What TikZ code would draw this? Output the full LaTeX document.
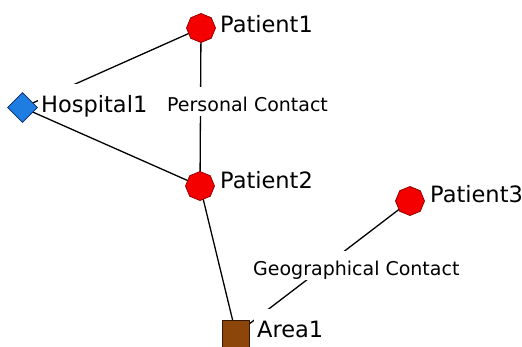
\documentclass[tikz,border=0pt]{standalone}
\usepackage{fontspec}
\setmainfont{DejaVu Sans}
\usetikzlibrary{shapes.geometric,backgrounds}
\definecolor{pfill}{RGB}{245,0,0}
\definecolor{pline}{RGB}{150,0,0}
\definecolor{hfill}{RGB}{30,125,225}
\definecolor{hline}{RGB}{10,40,100}
\definecolor{afill}{RGB}{140,70,10}
\definecolor{aline}{RGB}{50,25,0}
\tikzset{
  pat/.style={regular polygon, regular polygon sides=8, shape border rotate=22.5,
    minimum size=29pt, inner sep=0pt, fill=pfill, draw=pline, line width=0.8pt},
  hosp/.style={diamond, minimum width=30pt, minimum height=30pt, inner sep=0pt,
    fill=hfill, draw=hline, line width=0.8pt},
  areabox/.style={rectangle, minimum size=27pt, inner sep=0pt,
    fill=afill, draw=aline, line width=0.8pt},
  nlabel/.style={anchor=base west, fill=white, inner xsep=3pt, inner ysep=0pt,
    text height=28pt, text depth=1pt, font=\fontsize{22.5}{27}\selectfont},
  elabel/.style={anchor=base west, fill=white, inner xsep=2pt, inner ysep=0pt,
    text height=24pt, text depth=5pt, font=\fontsize{19}{23}\selectfont},
  link/.style={draw=black, line width=1.3pt}
}
\begin{document}
\begin{tikzpicture}[x=1pt,y=-1pt]
\useasboundingbox (0,0) rectangle (522,346);
% nodes
\node[pat] (p1) at (201,28) {};
\node[hosp] (h1) at (22.5,107.5) {};
\node[pat] (p2) at (200,186) {};
\node[pat] (p3) at (410,201) {};
\node[areabox] (a1) at (236,334) {};
% node labels
\node[nlabel] (p1l) at (217,32) {Patient1};
\node[nlabel] (h1l) at (38,112) {Hospital1};
\node[nlabel] (p2l) at (217,188) {Patient2};
\node[nlabel] (p3l) at (427,202) {Patient3};
\node[nlabel] (a1l) at (254,337) {Area1};
% edge labels
\node[elabel] (pc) at (165,111) {Personal Contact};
\node[elabel] (gc) at (251,275) {Geographical Contact};
\begin{pgfonlayer}{background}
  \fill[white] (0,0) rectangle (522,346);
  \draw[link] (h1.center) -- (p1.center);
  \draw[link] (h1.center) -- (p2.center);
  \draw[link] (p1.center) -- (p2.center);
  \draw[link] (p2.center) -- (a1.center);
  \draw[link] (p3.center) -- (a1.center);
\end{pgfonlayer}
\end{tikzpicture}
\end{document}
